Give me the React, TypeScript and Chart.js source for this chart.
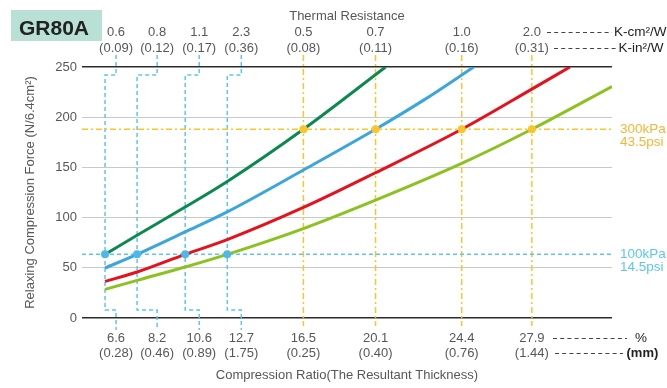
import React, { useEffect, useRef } from 'react';
import { Chart, registerables } from 'chart.js';

Chart.register(...registerables);

const FONT = '"Liberation Sans", Arial, Helvetica, sans-serif';

// ---- data ----
const ratioAt100kPa = [6.6, 8.2, 10.6, 12.7];
const ratioAt300kPa = [16.5, 20.1, 24.4, 27.9];
const force100kPa = 63.4;
const force300kPa = 188;
const labelAnchor100kPa = [7.15, 9.2, 11.3, 13.4];
const resistanceCm = ['0.6', '0.8', '1.1', '2.3', '0.5', '0.7', '1.0', '2.0'];
const resistanceIn = ['(0.09)', '(0.12)', '(0.17)', '(0.36)', '(0.08)', '(0.11)', '(0.16)', '(0.31)'];
const thicknessMm = ['(0.28)', '(0.46)', '(0.89)', '(1.75)', '(0.25)', '(0.40)', '(0.76)', '(1.44)'];

const greenX = [6.6, 8.2, 10.6, 12.7, 16.5, 20.6];
const greenY = [63.4, 82.4, 110.5, 136, 188, 250];
const blueX = [6.6, 8.2, 10.6, 12.7, 16.5, 20.1, 22.5, 25.0];
const blueY = [49.8, 63.4, 85.7, 105.7, 147.4, 188, 217, 250];
const redX = [6.6, 8.2, 10.6, 12.7, 16.5, 20.1, 24.4, 27.9, 29.8];
const redY = [36.5, 45.8, 63.4, 78.1, 110.1, 144.7, 188, 228, 250];
const limeX = [6.6, 8.2, 10.6, 12.7, 16.5, 20.1, 24.4, 27.9, 31.9];
const limeY = [28.5, 37.5, 50.8, 63.4, 89.1, 117.4, 154, 188, 230.6];

const X_MIN = 5.45;
const X_MAX = 31.9;
const Y_MIN = 0;
const Y_MAX = 250;
const Y_STEP = 50;

// guide extents (value units)
const GUIDE_TOP = 262;
const JOG_TOP = 242;
const JOG_BOTTOM = 8;
const GUIDE_BOTTOM = -12;
const ORANGE_BOTTOM = -8;

const GREEN = '#0b8a50';
const BLUE = '#3aa6dd';
const RED = '#e5121d';
const LIME = '#8cc21f';
const LIGHT_BLUE = '#5cc6f0';
const ORANGE = '#fbc52a';
const ORANGE_TEXT = '#f7b534';
const TEXT = '#575757';

const pts = (xs: number[], ys: number[]) => xs.map((x, i) => ({ x, y: ys[i] }));

const curve = (label: string, xs: number[], ys: number[], color: string) => ({
  label,
  data: pts(xs, ys),
  borderColor: color,
  backgroundColor: color,
  borderWidth: 3,
  pointRadius: 0,
  cubicInterpolationMode: 'monotone' as const,
  fill: false,
  clip: 0,
});

const guide = (data: { x: number; y: number }[], color: string, dash: number[]) => ({
  label: 'guide',
  data,
  borderColor: color,
  borderWidth: 1.5,
  borderDash: dash,
  pointRadius: 0,
  tension: 0,
  fill: false,
  clip: false as const,
});

const dots = (xs: number[], y: number, color: string) => ({
  label: 'dots',
  data: xs.map((x) => ({ x, y })),
  showLine: false,
  pointRadius: 4,
  pointBackgroundColor: color,
  pointBorderWidth: 0,
  borderColor: color,
  clip: false as const,
});

const annotate = {
  id: 'annotate',
  afterDraw(chart: any) {
    const { ctx, chartArea } = chart;
    const xs = chart.scales.x;
    const ys = chart.scales.y;
    ctx.save();

    // product tag
    ctx.fillStyle = '#b8e0d5';
    ctx.fillRect(11, 10, 91, 31);
    ctx.fillStyle = '#222';
    ctx.font = `bold 21px ${FONT}`;
    ctx.textAlign = 'left';
    ctx.textBaseline = 'alphabetic';
    ctx.fillText('GR80A', 19, 34.5);

    const cx = (chartArea.left + chartArea.right) / 2;
    ctx.font = `13px ${FONT}`;
    ctx.fillStyle = TEXT;
    ctx.textAlign = 'center';
    ctx.textBaseline = 'middle';
    ctx.fillText('Thermal Resistance', cx, 16);
    ctx.fillText('Compression Ratio(The Resultant Thickness)', cx, 375);

    const anchors = [...labelAnchor100kPa, ...ratioAt300kPa];
    const ratios = [...ratioAt100kPa, ...ratioAt300kPa];
    anchors.forEach((a, i) => {
      const px = xs.getPixelForValue(a);
      ctx.fillText(resistanceCm[i], px, 32);
      ctx.fillText(resistanceIn[i], px, 48);
      ctx.fillText(ratios[i].toFixed(1), px, 338);
      ctx.fillText(thicknessMm[i], px, 353);
    });

    // unit leaders
    const r = chartArea.right;
    ctx.strokeStyle = '#444';
    ctx.lineWidth = 1;
    ctx.setLineDash([4, 3.2]);
    const leader = (x1: number, x2: number, y: number) => {
      ctx.beginPath();
      ctx.moveTo(x1, y + 0.5);
      ctx.lineTo(x2, y + 0.5);
      ctx.stroke();
    };
    leader(r - 65, r, 32);
    leader(r - 58, r + 4, 48);
    leader(r - 59, r + 15, 338);
    leader(r - 57, r + 11, 353);
    ctx.setLineDash([]);

    ctx.textAlign = 'left';
    ctx.fillStyle = '#222';
    ctx.font = `13.5px ${FONT}`;
    ctx.fillText('K-cm\u00B2/W', r + 2, 32);
    ctx.fillText('K-in\u00B2/W', r + 6.5, 48);
    ctx.fillText('%', r + 23, 338);
    ctx.font = `bold 13px ${FONT}`;
    ctx.fillText('(mm)', r + 14.5, 353);

    // pressure labels
    ctx.font = `13.5px ${FONT}`;
    const y300 = ys.getPixelForValue(force300kPa);
    const y100 = ys.getPixelForValue(force100kPa);
    ctx.fillStyle = ORANGE_TEXT;
    ctx.fillText('300kPa', r + 8, y300);
    ctx.fillText('43.5psi', r + 8, y300 + 13.5);
    ctx.fillStyle = LIGHT_BLUE;
    ctx.fillText('100kPa', r + 8, y100);
    ctx.fillText('14.5psi', r + 8, y100 + 12.5);

    ctx.restore();
  },
};

export default function App() {
  const ref = useRef<HTMLCanvasElement | null>(null);

  useEffect(() => {
    if (!ref.current) return;

    const blueGuides = ratioAt100kPa.map((r, i) =>
      guide(
        [
          { x: labelAnchor100kPa[i], y: GUIDE_TOP },
          { x: labelAnchor100kPa[i], y: JOG_TOP },
          { x: r, y: JOG_TOP },
          { x: r, y: JOG_BOTTOM },
          { x: labelAnchor100kPa[i], y: JOG_BOTTOM },
          { x: labelAnchor100kPa[i], y: GUIDE_BOTTOM },
        ],
        LIGHT_BLUE,
        [4, 3]
      )
    );
    const orangeGuides = ratioAt300kPa.map((r) =>
      guide(
        [
          { x: r, y: GUIDE_TOP },
          { x: r, y: ORANGE_BOTTOM },
        ],
        ORANGE,
        [6, 3, 2, 3]
      )
    );

    const chart = new Chart(ref.current, {
      type: 'line',
      data: {
        datasets: [
          dots(ratioAt100kPa, force100kPa, '#4cb9ea'),
          dots(ratioAt300kPa, force300kPa, ORANGE),
          curve('green', greenX, greenY, GREEN),
          curve('blue', blueX, blueY, BLUE),
          curve('red', redX, redY, RED),
          curve('lime', limeX, limeY, LIME),
          guide(
            [
              { x: X_MIN, y: force100kPa },
              { x: X_MAX, y: force100kPa },
            ],
            LIGHT_BLUE,
            [4, 3]
          ),
          guide(
            [
              { x: X_MIN, y: force300kPa },
              { x: X_MAX, y: force300kPa },
            ],
            ORANGE,
            [6, 3, 2, 3]
          ),
          ...blueGuides,
          ...orangeGuides,
        ] as any,
      },
      options: {
        responsive: false,
        animation: false,
        events: [],
        layout: { padding: { left: 23, right: 55, top: 67, bottom: 70 } },
        plugins: {
          legend: { display: false },
          tooltip: { enabled: false },
        },
        scales: {
          x: {
            type: 'linear',
            min: X_MIN,
            max: X_MAX,
            display: false,
          },
          y: {
            type: 'linear',
            min: Y_MIN,
            max: Y_MAX,
            ticks: {
              stepSize: Y_STEP,
              color: TEXT,
              font: { size: 13, family: FONT },
              padding: 5,
            },
            grid: {
              drawTicks: false,
              color: (c: any) =>
                c.tick && (c.tick.value === Y_MIN || c.tick.value === Y_MAX) ? '#2b2b2b' : '#c9c9c9',
              lineWidth: (c: any) =>
                c.tick && (c.tick.value === Y_MIN || c.tick.value === Y_MAX) ? 1.5 : 1,
            },
            border: { display: false },
            title: {
              display: true,
              text: 'Relaxing Compression Force (N/6.4cm\u00B2)',
              color: TEXT,
              font: { size: 13, family: FONT },
              padding: { top: 0, bottom: 0 },
            },
            afterFit: (s: any) => {
              s.width = 59;
            },
          },
        },
      },
      plugins: [annotate],
    } as any);

    return () => chart.destroy();
  }, []);

  return (
    <div style={{ position: 'absolute', left: 0, top: 0, width: 667, height: 388, background: '#fff' }}>
      <canvas ref={ref} width={667} height={388} style={{ display: 'block', width: 667, height: 388 }} />
    </div>
  );
}
